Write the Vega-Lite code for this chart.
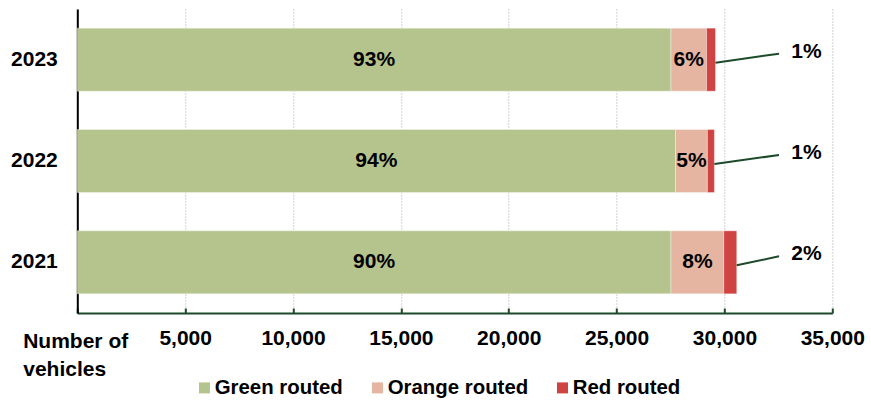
{
  "$schema": "https://vega.github.io/schema/vega-lite/v6.json",
  "width": 755,
  "height": 304,
  "autosize": {"type": "none"},
  "padding": {"left": 77.3, "top": 9, "right": 38.7, "bottom": 88},
  "config": {
    "view": {"stroke": null},
    "font": "Liberation Sans"
  },
  "data": {
    "values": [
      {"year": "2023", "route": "Green routed", "order": 1, "vehicles": 27520},
      {"year": "2023", "route": "Orange routed", "order": 2, "vehicles": 1650},
      {"year": "2023", "route": "Red routed", "order": 3, "vehicles": 415},
      {"year": "2022", "route": "Green routed", "order": 1, "vehicles": 27730},
      {"year": "2022", "route": "Orange routed", "order": 2, "vehicles": 1480},
      {"year": "2022", "route": "Red routed", "order": 3, "vehicles": 325},
      {"year": "2021", "route": "Green routed", "order": 1, "vehicles": 27520},
      {"year": "2021", "route": "Orange routed", "order": 2, "vehicles": 2450},
      {"year": "2021", "route": "Red routed", "order": 3, "vehicles": 600}
    ]
  },
  "transform": [
    {"joinaggregate": [{"op": "sum", "field": "vehicles", "as": "total"}], "groupby": ["year"]},
    {"calculate": "datum.vehicles / datum.total", "as": "share"},
    {"stack": "vehicles", "groupby": ["year"], "sort": [{"field": "order", "order": "ascending"}], "as": ["start", "end"]},
    {"calculate": "(datum.start + datum.end) / 2", "as": "mid"}
  ],
  "encoding": {
    "y": {
      "field": "year",
      "type": "nominal",
      "sort": ["2023", "2022", "2021"],
      "scale": {"paddingInner": 0.378, "paddingOuter": 0.189},
      "axis": {
        "title": null,
        "domainColor": "#000000",
        "domainWidth": 2,
        "ticks": false,
        "grid": false,
        "labelFontSize": 21,
        "labelFontWeight": "bold",
        "labelColor": "#000000",
        "labelPadding": 20
      }
    }
  },
  "layer": [
    {
      "mark": {"type": "bar", "stroke": "#ffffff", "strokeWidth": 0.6, "strokeOpacity": 0.6},
      "encoding": {
        "x": {
          "field": "start",
          "type": "quantitative",
          "scale": {"domain": [0, 35000], "nice": false},
          "axis": {
            "title": ["Number of", "vehicles"],
            "values": [0, 5000, 10000, 15000, 20000, 25000, 30000, 35000],
            "format": ",d",
            "labelExpr": "datum.value === 0 ? '' : datum.label",
            "labelFlush": false,
            "labelOverlap": false,
            "grid": true,
            "gridColor": "#a6a6a6",
            "gridDash": [1, 2],
            "gridWidth": 1,
            "domainColor": "#1d4a2a",
            "domainWidth": 2,
            "tickColor": "#1d4a2a",
            "tickSize": -5,
            "tickWidth": 2,
            "labelFontSize": 21,
            "labelFontWeight": "bold",
            "labelColor": "#000000",
            "labelPadding": 19,
            "titleFontSize": 21,
            "titleFontWeight": "bold",
            "titleColor": "#000000",
            "titleAlign": "left",
            "titleBaseline": "alphabetic",
            "titleX": -54.6,
            "titleY": 34.3,
            "titleLineHeight": 28.4
          }
        },
        "x2": {"field": "end"},
        "color": {
          "field": "route",
          "type": "nominal",
          "scale": {
            "domain": ["Green routed", "Orange routed", "Red routed"],
            "range": ["#b5c48d", "#e6b5a1", "#d04343"]
          },
          "legend": {
            "orient": "none",
            "legendX": 117,
            "legendY": 368.5,
            "direction": "horizontal",
            "title": null,
            "symbolType": "square",
            "symbolSize": 121,
            "symbolStrokeWidth": 0,
            "labelFontSize": 20.4,
            "labelFontWeight": "bold",
            "labelColor": "#000000",
            "labelOffset": 0,
            "labelLimit": 300,
            "columnPadding": 24,
            "padding": 0
          }
        }
      }
    },
    {
      "transform": [{"filter": "datum.route !== 'Red routed'"}],
      "mark": {"type": "text", "fontSize": 21, "fontWeight": "bold", "color": "#000000"},
      "encoding": {
        "x": {"field": "mid", "type": "quantitative"},
        "text": {"field": "share", "format": ".0%"}
      }
    },
    {
      "transform": [{"filter": "datum.route === 'Red routed'"}],
      "mark": {"type": "rule", "color": "#1d4a2a", "strokeWidth": 2, "yOffset": 3, "y2Offset": -6},
      "encoding": {
        "x": {"field": "end", "type": "quantitative"},
        "x2": {"datum": 32530},
        "y2": {"field": "year", "bandPosition": 0.5}
      }
    },
    {
      "transform": [{"filter": "datum.route === 'Red routed'"}],
      "mark": {"type": "text", "fontSize": 21, "fontWeight": "bold", "color": "#000000", "dy": -8},
      "encoding": {
        "x": {"datum": 33800},
        "text": {"field": "share", "format": ".0%"}
      }
    }
  ]
}
